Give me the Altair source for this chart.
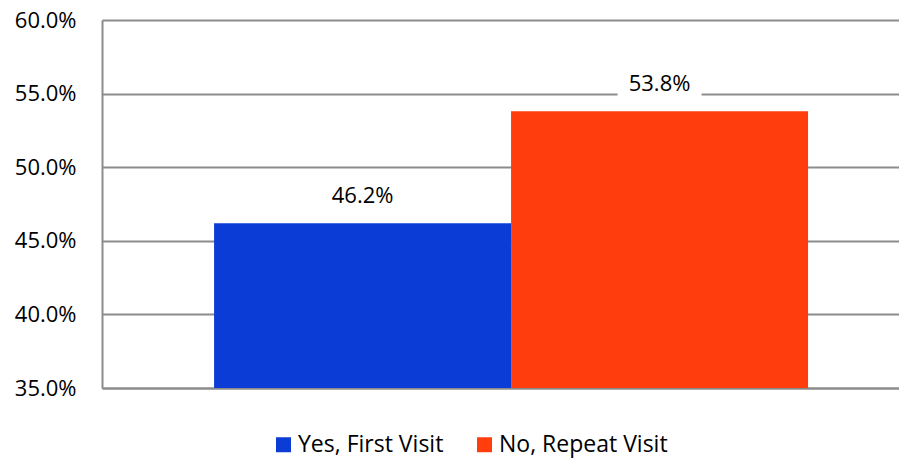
import altair as alt
import pandas as pd

series = ["Yes, First Visit", "No, Repeat Visit"]
values = [0.462, 0.538]
colors = ["#0B3DD6", "#FF3D0D"]

df = pd.DataFrame({"series": series, "value": values})

FONT = "Open Sans"
FS = 22
LFS = 23

x = alt.X("series:N", sort=series,
          scale=alt.Scale(paddingInner=0, paddingOuter=0.3418, align=0.552),
          axis=alt.Axis(title=None, labels=False, ticks=False, domain=True,
                        domainColor="#8c8c8c", domainWidth=2, grid=False))
y = alt.Y("value:Q",
          scale=alt.Scale(domain=[0.35, 0.60], zero=False, nice=False),
          axis=alt.Axis(title=None, format=".1%", values=[0.35, 0.40, 0.45, 0.50, 0.55, 0.60],
                        tickSize=0, labelPadding=26, labelFontSize=FS, labelFont=FONT,
                        labelColor="#000000", domainColor="#8c8c8c", domainWidth=2,
                        gridColor="#8c8c8c", gridWidth=2))

base = alt.Chart(df)

bars = base.mark_bar().encode(
    x=x, y=y, y2=alt.datum(0.35),
    color=alt.Color("series:N",
                    scale=alt.Scale(domain=series, range=colors),
                    legend=alt.Legend(title=None, orient="none", direction="horizontal",
                                      legendX=170, legendY=413,
                                      symbolType="square", symbolSize=225,
                                      symbolStrokeWidth=0, labelLimit=400,
                                      labelFontSize=LFS, labelFont=FONT, labelColor="#000000",
                                      labelOffset=3, columnPadding=29, padding=0)),
)

box = base.mark_point(
    shape="M-1,-0.3L1,-0.3L1,0.3L-1,0.3Z", filled=True, color="white",
    opacity=1, size=84 * 84, yOffset=-27,
).encode(x=x, y=y)

labels = base.mark_text(fontSize=FS, font=FONT, color="#000000", dy=-27,
                        baseline="middle").encode(
    x=x, y=y, text=alt.Text("value:Q", format=".1%"))

chart = alt.layer(bars, box, labels).properties(
    width=797, height=368,
    autosize=alt.AutoSizeParams(type="none"),
    padding={"left": 94, "top": 12, "right": 0, "bottom": 71},
).configure_view(stroke=None).configure(background="white")

chart.save("out.html", embed_options={"renderer": "svg", "actions": False})
